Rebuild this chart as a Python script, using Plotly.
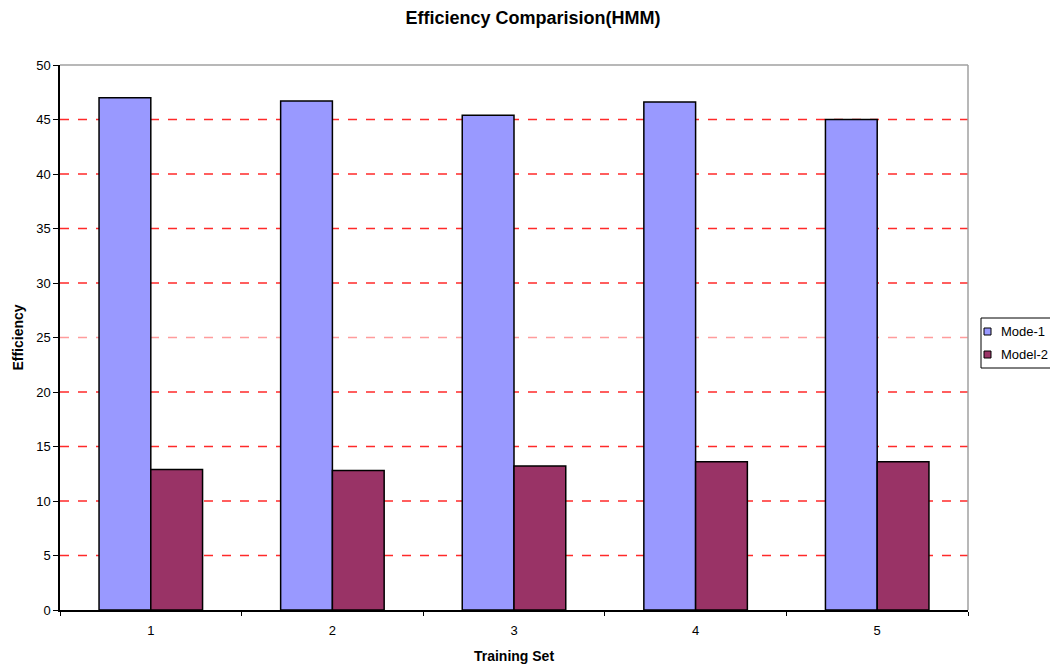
import plotly.graph_objects as go

categories = ["1", "2", "3", "4", "5"]
series_names = ["Mode-1", "Model-2"]
mode1 = [47.0, 46.7, 45.4, 46.6, 45.0]
model2 = [12.9, 12.8, 13.2, 13.6, 13.6]
colors = ["#9999FF", "#993366"]
y_ticks = [0, 5, 10, 15, 20, 25, 30, 35, 40, 45, 50]

W, H = 1050, 657
ML, MR, MT, MB = 52, 90, 57, 55
PW, PH = W - ML - MR, H - MT - MB

def px_x(px):  # window pixel -> paper x
    return (px - 8 - ML) / PW

def px_y(py):  # window pixel -> paper y
    return (H - MB + 8 - py) / PH

fig = go.Figure()
for name, vals, col in zip(series_names, [mode1, model2], colors):
    fig.add_trace(go.Bar(x=categories, y=vals, name=name, showlegend=False,
                         marker=dict(color=col, line=dict(color="#000000", width=1.5))))

fig.update_layout(
    width=W, height=H,
    margin=dict(l=ML, r=MR, t=MT, b=MB),
    paper_bgcolor="white", plot_bgcolor="white",
    barmode="group", bargap=0.43, bargroupgap=0,
    font=dict(family="Liberation Sans, Arial", size=13, color="#000000"),
    title=dict(text="<b>Efficiency Comparision(HMM)</b>", x=0.5, xanchor="center",
               y=1 - 10 / H, yanchor="middle", font=dict(size=18)),
    showlegend=False,
)
fig.update_xaxes(type="category", showline=True, linecolor="#000000", linewidth=1.5,
                 ticks="outside", tickson="boundaries", ticklen=4, tickcolor="#000000",
                 mirror=False, showgrid=False, automargin=False, ticklabelstandoff=8,
                 title=dict(text="<b>Training Set</b>", font=dict(size=14), standoff=14),
                 tickfont=dict(size=13))
fig.update_yaxes(range=[0, 50], tickvals=y_ticks, showline=True, linecolor="#000000",
                 linewidth=1.5, ticks="outside", ticklen=5, tickcolor="#000000",
                 showgrid=False, zeroline=False, automargin=False,
                 title=dict(text="<b>Efficiency</b>", font=dict(size=14), standoff=9),
                 tickfont=dict(size=13))
# red dashed horizontal gridlines
for v in y_ticks[1:-1]:
    fig.add_shape(type="line", xref="paper", yref="y", x0=0, x1=1, y0=v, y1=v,
                  line=dict(color="#FF2A2A" if v != 25 else "#FF9C9C", width=1.3, dash="dash"),
                  layer="below")
# light gray top/right border of plot area
fig.add_shape(type="line", xref="paper", yref="paper", x0=0, x1=1, y0=1, y1=1,
              line=dict(color="#A0A0A0", width=1.5))
fig.add_shape(type="line", xref="paper", yref="paper", x0=1, x1=1, y0=0, y1=1,
              line=dict(color="#A0A0A0", width=1.5))

# legend box (drawn to sit just right of the plot, as in the reference)
fig.add_shape(type="rect", xref="paper", yref="paper",
              x0=px_x(981), x1=px_x(1075), y0=px_y(368), y1=px_y(318),
              line=dict(color="#000000", width=1), fillcolor="white")
for i, (name, col) in enumerate(zip(series_names, colors)):
    cy = 331.5 + i * 23
    fig.add_shape(type="rect", xref="paper", yref="paper",
                  x0=px_x(984), x1=px_x(991), y0=px_y(cy + 3.5), y1=px_y(cy - 3.5),
                  line=dict(color="#000000", width=1), fillcolor=col)
    fig.add_annotation(text=name, xref="paper", yref="paper", x=px_x(999), y=px_y(cy),
                       xanchor="left", yanchor="middle", showarrow=False,
                       font=dict(size=13, color="#000000"))

fig.write_html("out.html")
